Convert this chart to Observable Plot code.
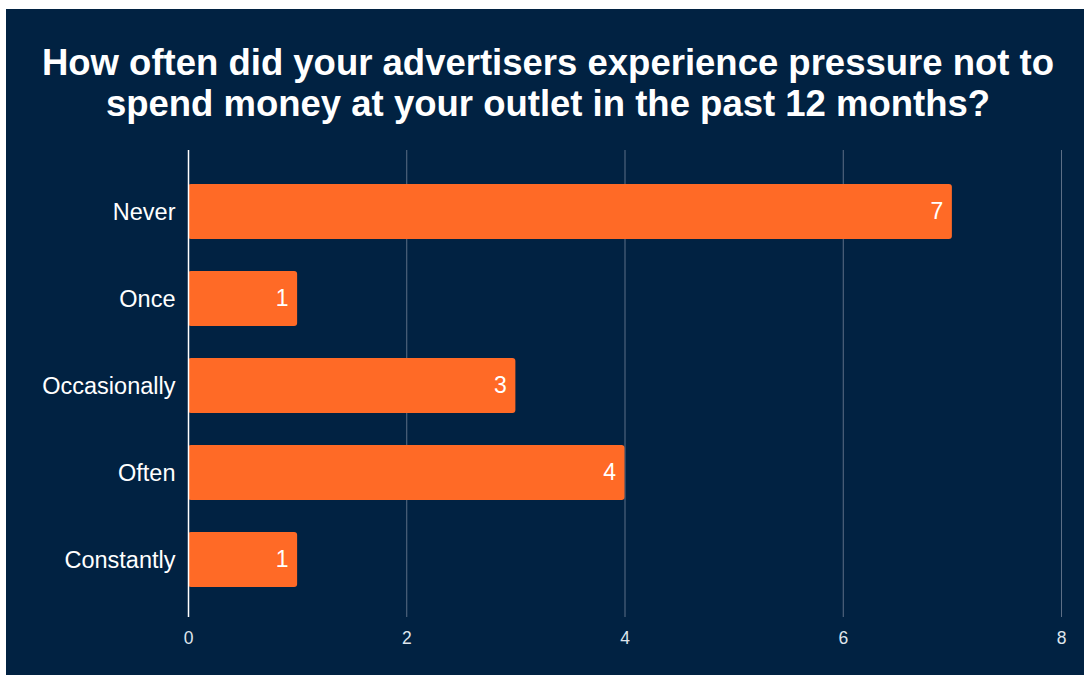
<!DOCTYPE html>
<html>
<head>
<meta charset="utf-8">
<script src="https://cdn.jsdelivr.net/npm/d3@7"></script>
<script src="https://cdn.jsdelivr.net/npm/@observablehq/plot@0.6"></script>
<style>
  html, body { margin: 0; padding: 0; background: #ffffff; }
  #frame {
    position: absolute; left: 6px; top: 9px; width: 1078px; height: 666px;
    background: #012242; overflow: hidden;
    font-family: "Liberation Sans", Arial, sans-serif;
  }
  #title {
    position: absolute; left: 0; top: 33px; width: 1084px; text-align: center;
    color: #ffffff; font-weight: bold; font-size: 36.5px; line-height: 41px;
  }
  #chart { position: absolute; left: 0; top: 136px; }
</style>
</head>
<body>
<div id="frame">
  <div id="title">How often did your advertisers experience pressure not to<br>spend money at your outlet in the past 12 months?</div>
  <div id="chart"></div>
</div>
<script>
const categories = ["Never", "Once", "Occasionally", "Often", "Constantly"];
const counts = [7, 1, 3, 4, 1];
const xTicks = [0, 2, 4, 6, 8];

const data = categories.map((c, i) => ({category: c, count: counts[i]}));

const plot = Plot.plot({
  width: 1078,
  height: 539,
  marginLeft: 182,
  marginRight: 23,
  marginTop: 5,
  marginBottom: 64,
  style: {background: "transparent", color: "#ffffff", fontFamily: "'Liberation Sans', Arial, sans-serif"},
  x: {domain: [0, 8], ticks: xTicks, label: null},
  y: {domain: categories, paddingInner: 0.37, paddingOuter: 0.38, label: null},
  marks: [
    Plot.ruleX(xTicks.filter(d => d !== 0), {stroke: "#5d6f86", strokeWidth: 1, insetBottom: 3}),
    Plot.barX(data, {y: "category", x: "count", fill: "#ff6a26", rx: 3}),
    Plot.ruleX([0], {stroke: "#ffffff", strokeWidth: 1.5, insetBottom: 3}),
    Plot.text(data, {y: "category", x: "count", text: d => String(d.count), textAnchor: "end", dx: -9, fill: "#ffffff", fontSize: 23}),
    Plot.axisX({ticks: xTicks, tickSize: 0, tickPadding: 11, fontSize: 17.5, color: "#dfe5ec", label: null}),
    Plot.axisY({tickSize: 0, tickPadding: 13, fontSize: 23.5, color: "#ffffff", label: null})
  ]
});
document.getElementById("chart").appendChild(plot);
</script>
</body>
</html>
